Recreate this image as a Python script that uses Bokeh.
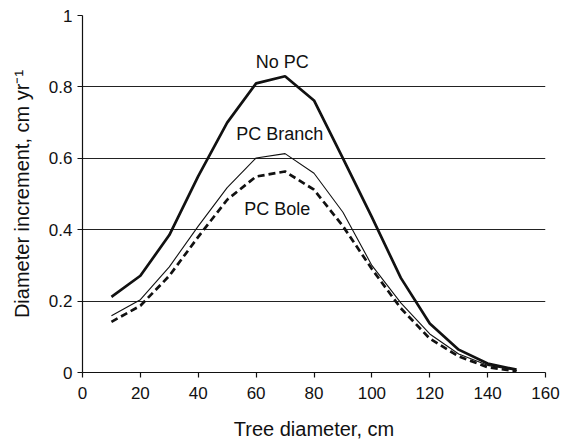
from bokeh.plotting import figure
from bokeh.models import Range1d, FixedTicker, CustomJSTickFormatter, Label
from bokeh.embed import file_html
from bokeh.resources import INLINE

# Tree diameter classes (cm)
diameter = [10, 20, 30, 40, 50, 60, 70, 80, 90, 100, 110, 120, 130, 140, 150]

# Diameter increment (cm/yr) by treatment
no_pc = [0.212, 0.271, 0.385, 0.55, 0.70, 0.81, 0.83, 0.762, 0.60, 0.435, 0.265, 0.137, 0.064, 0.025, 0.008]
pc_branch = [0.159, 0.204, 0.296, 0.41, 0.518, 0.601, 0.613, 0.558, 0.449, 0.30, 0.195, 0.108, 0.052, 0.02, 0.006]
pc_bole = [0.142, 0.187, 0.271, 0.38, 0.484, 0.549, 0.563, 0.512, 0.41, 0.29, 0.18, 0.095, 0.045, 0.015, 0.003]

x_ticks = [0, 20, 40, 60, 80, 100, 120, 140, 160]
y_ticks = [0, 0.2, 0.4, 0.6, 0.8, 1.0]

FONT = "Liberation Sans"
INK = "#111111"

p = figure(width=576, height=442, output_backend="svg", toolbar_location=None,
           x_range=Range1d(0, 160), y_range=Range1d(0, 1),
           min_border_left=82, min_border_right=31, min_border_top=15, min_border_bottom=70)
p.outline_line_color = None
p.background_fill_color = "white"
p.border_fill_color = "white"

# grid: horizontal lines only
p.xgrid.grid_line_color = None
p.ygrid.ticker = FixedTicker(ticks=y_ticks)
p.ygrid.grid_line_color = "#222222"
p.ygrid.grid_line_width = 1.2

for ax in (p.xaxis, p.yaxis):
    ax.axis_line_color = INK
    ax.axis_line_width = 1.2
    ax.major_tick_line_color = INK
    ax.major_tick_line_width = 1.2
    ax.major_tick_out = 5
    ax.major_tick_in = 0
    ax.minor_tick_line_color = None
    ax.major_label_text_font = FONT
    ax.major_label_text_font_size = "17px"
    ax.major_label_text_color = INK
    ax.axis_label_text_font = FONT
    ax.axis_label_text_font_size = "20px"
    ax.axis_label_text_font_style = "normal"
    ax.axis_label_text_color = INK

p.xaxis.ticker = FixedTicker(ticks=x_ticks)
p.yaxis.ticker = FixedTicker(ticks=y_ticks)
p.yaxis.formatter = CustomJSTickFormatter(code="return tick.toFixed(1).replace(/\\.0$/, '');")
p.xaxis.axis_label = "Tree diameter, cm"
p.yaxis.axis_label = "Diameter increment, cm yr\u207b\u00b9"
p.xaxis.major_label_standoff = 9
p.yaxis.major_label_standoff = 5
p.xaxis.axis_label_standoff = 16
p.yaxis.axis_label_standoff = 13

p.line(diameter, no_pc, line_color=INK, line_width=2.7)
p.line(diameter, pc_branch, line_color=INK, line_width=1.1)
p.line(diameter, pc_bole, line_color=INK, line_width=2.7, line_dash="7 4")

for txt, x, y in [("No PC", 69.0, 0.869), ("PC Branch", 68.2, 0.668), ("PC Bole", 67.3, 0.458)]:
    p.add_layout(Label(x=x, y=y, text=txt, text_align="center", text_baseline="middle",
                       text_font=FONT, text_font_size="18px", text_color=INK))

open("out.html", "w").write(file_html(p, INLINE))
